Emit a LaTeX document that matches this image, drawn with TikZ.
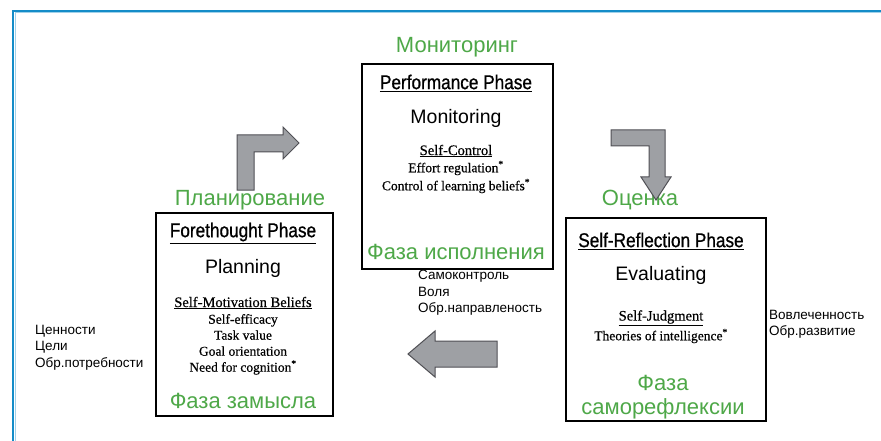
\documentclass[tikz,border=0pt]{standalone}
\usepackage{fontspec}
\setmainfont{Liberation Serif}[FakeBold=0.5]
\newfontfamily\sansf{Liberation Sans}
\newfontfamily\narrowf[FakeStretch=0.86,FakeBold=0.8]{Liberation Sans}
\definecolor{grn}{RGB}{78,168,72}
\definecolor{frameblue}{RGB}{20,140,200}
\definecolor{arrowfill}{RGB}{158,160,164}
\definecolor{arrowline}{RGB}{80,80,85}
\begin{document}
\begin{tikzpicture}[x=1pt,y=-1pt,
  phasebox/.style={draw=black,line width=2pt,rectangle,inner sep=0pt,anchor=north west},
  greentxt/.style={font=\sansf\fontsize{22}{25}\selectfont,text=grn,inner sep=0pt},
  phasetitle/.style={font=\narrowf\fontsize{20}{22}\selectfont,inner sep=0pt},
  verbtxt/.style={font=\sansf\fontsize{19.5}{22}\selectfont,inner sep=0pt},
  serifhead/.style={font=\fontsize{14.5}{16}\selectfont,inner sep=0pt},
  seriftxt/.style={font=\fontsize{13.5}{16}\selectfont,inner sep=0pt},
  sidetxt/.style={font=\sansf\fontsize{13.5}{16.5}\selectfont,align=left,anchor=north west,inner sep=0pt},
  blockarrow/.style={fill=arrowfill,draw=arrowline,line width=1pt,line join=miter}]
\useasboundingbox (0,0) rectangle (881,441);
\fill[white] (0,0) rectangle (881,441);
\draw[frameblue!40,line width=1pt] (15,441) -- (15,13) -- (881,13);
\draw[frameblue,line width=1.5pt] (13,441) -- (13,11) -- (881,11);

% boxes
\node[phasebox,minimum width=191pt,minimum height=205pt] (perf) at (361,63) {};
\node[phasebox,minimum width=177pt,minimum height=203pt] (fore) at (155,212) {};
\node[phasebox,minimum width=200pt,minimum height=203pt] (refl) at (565,217) {};

% performance phase
\node[greentxt] (mon) at (457,47) {Мониторинг};
\node[phasetitle] (perft) at (456,83) {\underline{Performance Phase}};
\node[verbtxt] (monit) at (456,118) {Monitoring};
\node[serifhead] (sc) at (456,151) {\underline{Self-Control}};
\node[seriftxt] (er) at (456,168) {Effort regulation\textsuperscript{*}};
\node[seriftxt] (cl) at (456,186) {Control of learning beliefs\textsuperscript{*}};
\node[greentxt] (fi) at (456,252) {Фаза исполнения};

% forethought phase
\node[greentxt] (plan) at (250,200) {Планирование};
\node[phasetitle] (foret) at (243,233) {\underline{Forethought Phase}};
\node[verbtxt] (planning) at (243,268) {Planning};
\node[serifhead] (smb) at (243,303) {\underline{Self-Motivation Beliefs}};
\node[seriftxt,align=center,anchor=north] (fl) at (243,314) {Self-efficacy\\Task value\\Goal orientation\\Need for cognition\textsuperscript{*}};
\node[greentxt] (fz) at (243,401) {Фаза замысла};

% self-reflection phase
\node[greentxt] (oc) at (640,200) {Оценка};
\node[phasetitle] (reflt) at (661,241) {\underline{Self-Reflection Phase}};
\node[verbtxt] (eval) at (661,275) {Evaluating};
\node[serifhead] (sj) at (661,318) {\underline{Self-Judgment}};
\node[seriftxt] (ti) at (661,336) {Theories of intelligence\textsuperscript{*}};
\node[greentxt] (fs1) at (663,383) {Фаза};
\node[greentxt] (fs2) at (663,409) {саморефлексии};

% side notes
\node[sidetxt] (lnote) at (35,325) {Ценности\\Цели\\Обр.потребности};
\node[sidetxt] (mnote) at (418,270) {Самоконтроль\\Воля\\Обр.направленость};
\node[sidetxt] (rnote) at (769,310) {Вовлеченность\\Обр.развитие};

% block arrows
\draw[blockarrow] (237,190) -- (237,135) -- (283,135) -- (283,127) -- (299,143)
  -- (283,159) -- (283,152) -- (254,152) -- (254,190) -- cycle;
\draw[blockarrow] (611,130) -- (665,130) -- (665,177) -- (671,177) -- (656,200)
  -- (641,177) -- (649,177) -- (649,146) -- (611,146) -- cycle;
\draw[blockarrow] (408,354) -- (435,331) -- (435,341) -- (497,341) -- (497,367)
  -- (435,367) -- (435,377) -- cycle;
\end{tikzpicture}
\end{document}
